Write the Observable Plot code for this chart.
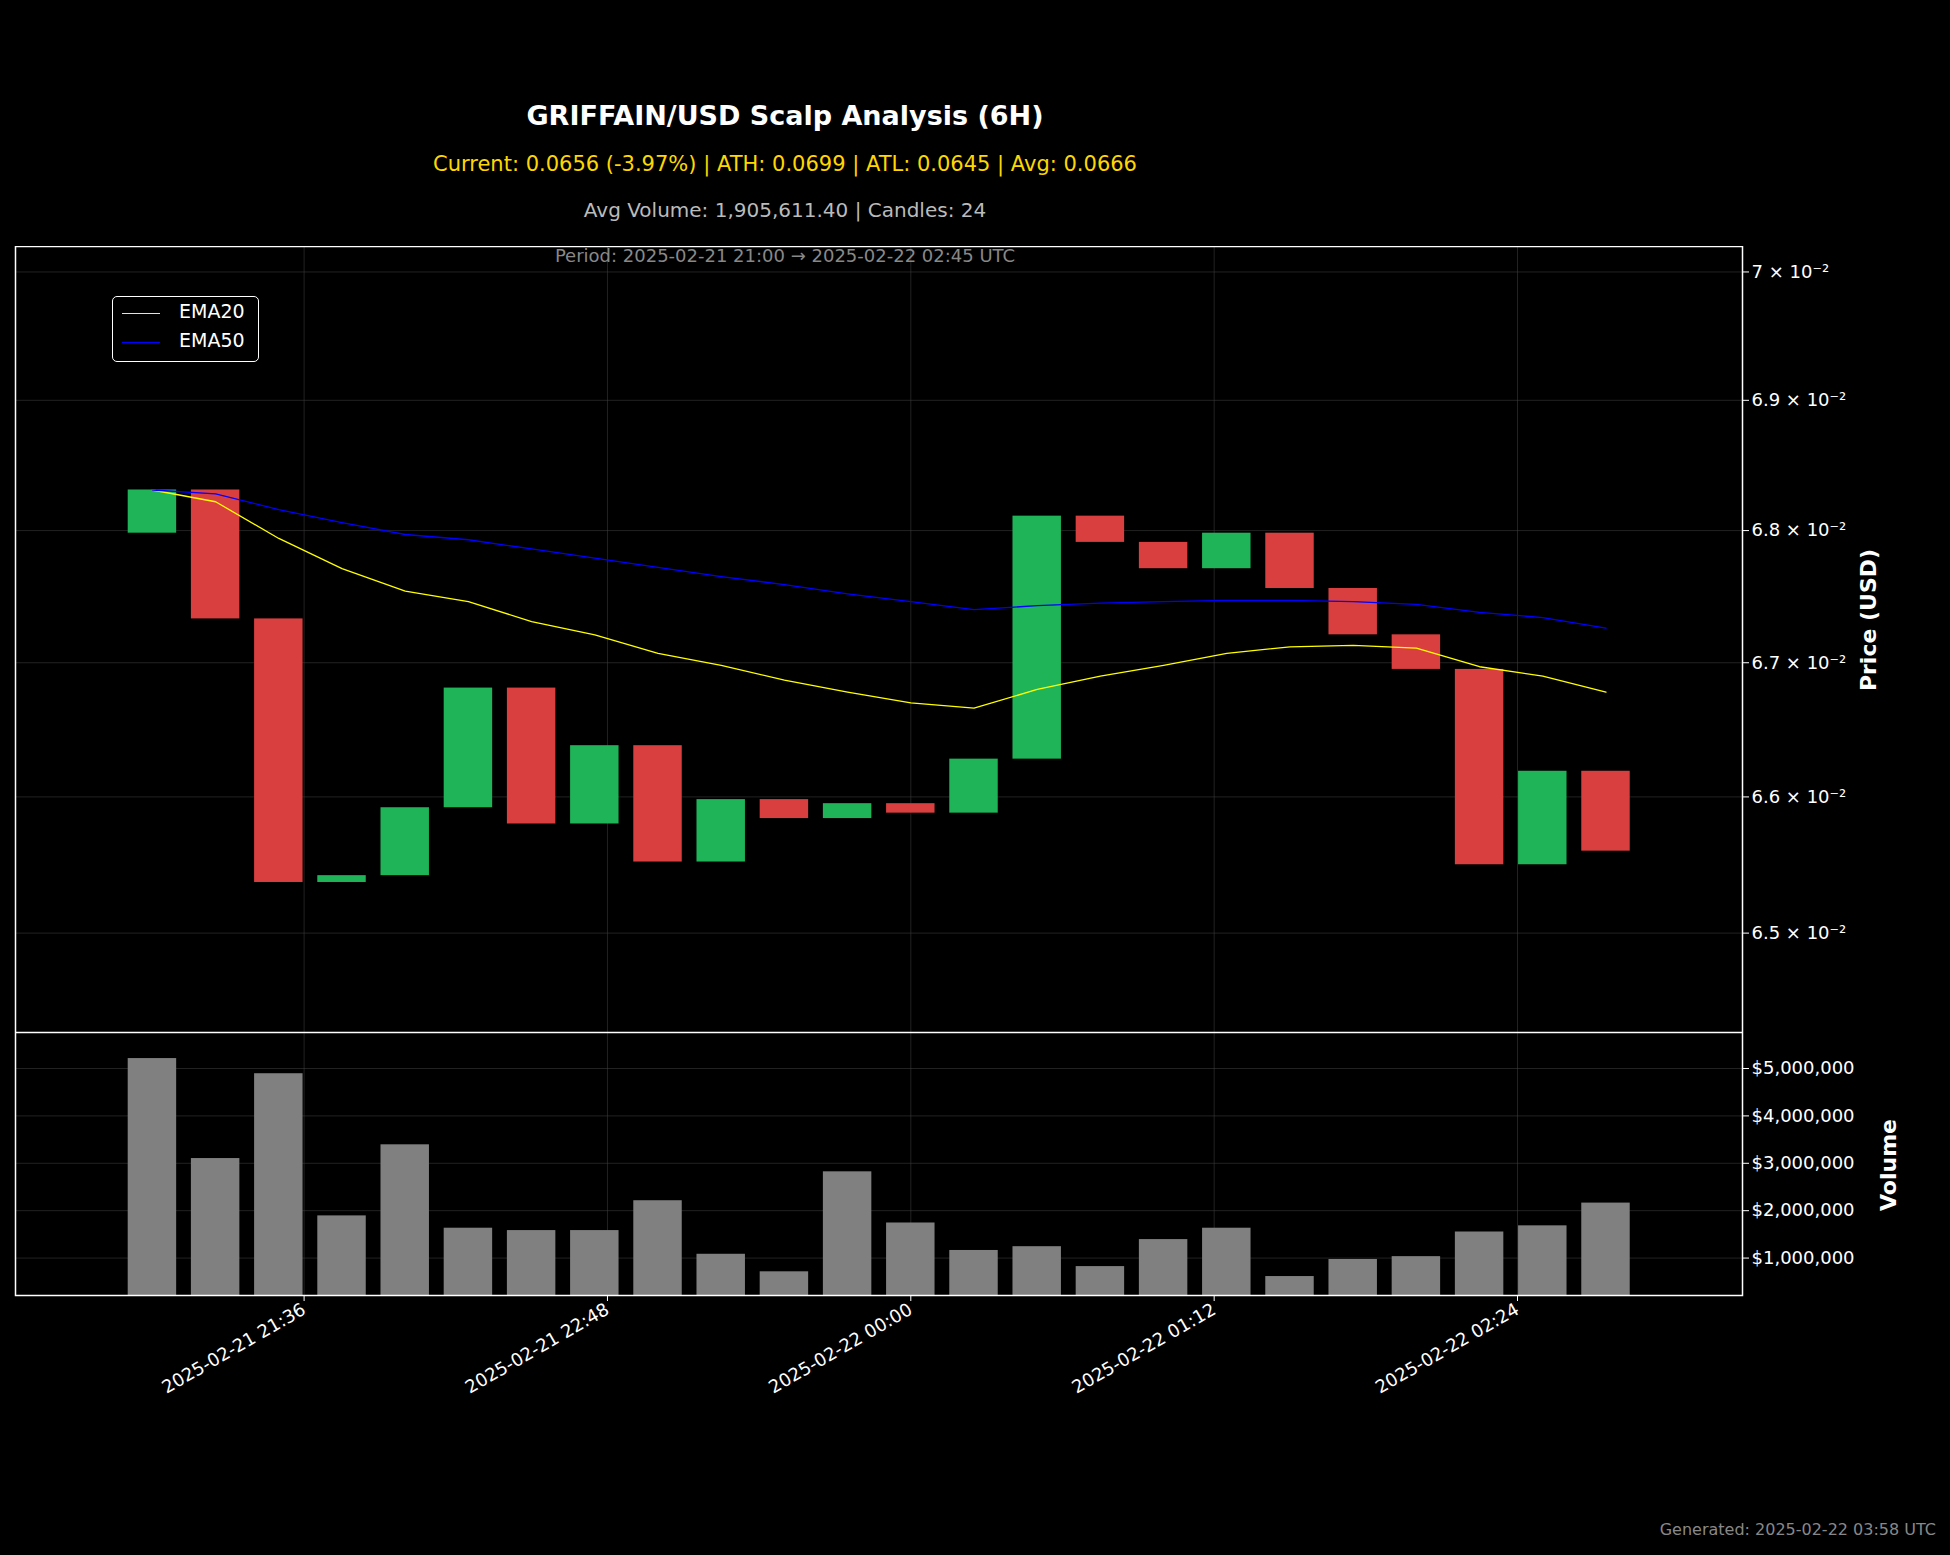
<!DOCTYPE html>
<html>
<head>
<meta charset="utf-8">
<script src="https://cdn.jsdelivr.net/npm/d3@7"></script>
<script src="https://cdn.jsdelivr.net/npm/@observablehq/plot@0.6"></script>
<style>
  body { margin: 0; background: #000; font-family: "DejaVu Sans", sans-serif; }
  #page { position: relative; width: 1950px; height: 1555px; background: #000; overflow: hidden; }
  .txt { position: absolute; left: 0; width: 1570px; text-align: center; white-space: nowrap; }
  .abs { position: absolute; }
</style>
</head>
<body>
<div id="page">
  <div class="txt" style="top:100px;font-size:27px;font-weight:bold;color:#fff;">GRIFFAIN/USD Scalp Analysis (6H)</div>
  <div class="txt" style="top:152px;font-size:21px;color:#ffd700;">Current: 0.0656 (-3.97%) | ATH: 0.0699 | ATL: 0.0645 | Avg: 0.0666</div>
  <div class="txt" style="top:198px;font-size:20px;color:#bbbbbb;">Avg Volume: 1,905,611.40 | Candles: 24</div>
  <div id="price" class="abs" style="left:0;top:246px;"></div>
  <div id="volume" class="abs" style="left:0;top:1032px;"></div>
  <div class="txt" style="top:245px;font-size:18px;color:#888;">Period: 2025-02-21 21:00 → 2025-02-22 02:45 UTC</div>
  <div class="abs" style="left:112px;top:296px;width:145px;height:64px;border:1.5px solid #fff;border-radius:5px;background:#000;font-size:19px;color:#fff;">
    <div style="position:absolute;left:9px;top:16px;width:38px;border-top:1.5px solid #ffff00;"></div>
    <div style="position:absolute;left:66px;top:3px;">EMA20</div>
    <div style="position:absolute;left:9px;top:45px;width:38px;border-top:1.5px solid #0000ff;"></div>
    <div style="position:absolute;left:66px;top:32px;">EMA50</div>
  </div>
  <div class="abs" style="left:1868px;top:620px;width:0;height:0;">
    <div style="transform:translate(-50%,-50%) rotate(-90deg);font-size:22px;font-weight:bold;color:#fff;white-space:nowrap;position:absolute;">Price (USD)</div>
  </div>
  <div class="abs" style="left:1888px;top:1165px;width:0;height:0;">
    <div style="transform:translate(-50%,-50%) rotate(-90deg);font-size:22px;font-weight:bold;color:#fff;white-space:nowrap;position:absolute;">Volume</div>
  </div>
  <div class="abs" style="right:14px;top:1520px;font-size:16px;color:#888;">Generated: 2025-02-22 03:58 UTC</div>
</div>
<script>
const opens  = [0.06798,0.06831,0.06733,0.06537,0.06542,0.06592,0.06681,0.06580,0.06638,0.06552,0.06598,0.06584,0.06595,0.06588,0.06628,0.06811,0.06791,0.06771,0.06798,0.06756,0.06721,0.06695,0.06550,0.06619];
const closes = [0.06831,0.06733,0.06537,0.06542,0.06592,0.06681,0.06580,0.06638,0.06552,0.06598,0.06584,0.06595,0.06588,0.06628,0.06811,0.06791,0.06771,0.06798,0.06756,0.06721,0.06695,0.06550,0.06619,0.06560];
const ema20 = [0.06831,0.06822,0.06794,0.06771,0.06754,0.06746,0.06731,0.06721,0.06707,0.06698,0.06687,0.06678,0.06670,0.06666,0.06680,0.06690,0.06698,0.06707,0.06712,0.06713,0.06711,0.06697,0.06690,0.06678];
const ema50 = [0.06831,0.06828,0.06816,0.06806,0.06797,0.06793,0.06786,0.06779,0.06772,0.06765,0.06759,0.06752,0.06746,0.06740,0.06743,0.06745,0.06746,0.06747,0.06747,0.06746,0.06744,0.06738,0.06734,0.06726];
const volumes = [5210000,3100000,4890000,1890000,3390000,1630000,1580000,1580000,2210000,1080000,710000,2820000,1740000,1160000,1240000,820000,1390000,1630000,610000,970000,1030000,1550000,1680000,2160000];
const priceTicks = [0.065,0.066,0.067,0.068,0.069,0.070];
const volTicks = [1e6,2e6,3e6,4e6,5e6];
const timeTicks = ["2025-02-21T21:36Z","2025-02-21T22:48Z","2025-02-22T00:00Z","2025-02-22T01:12Z","2025-02-22T02:24Z"].map(s => new Date(s));

const start = Date.UTC(2025,1,21,21,0);
const min = 60000;
const data = opens.map((o,i) => ({
  t: new Date(start + i*15*min),
  t1: new Date(start + i*15*min - 5.75*min),
  t2: new Date(start + i*15*min + 5.75*min),
  open: o, close: closes[i], e20: ema20[i], e50: ema50[i], vol: volumes[i],
  up: closes[i] >= o
}));
const xDomain = [new Date(start - 32.5*min), new Date(start + 377.4*min)];
const sup = {"-":"⁻","0":"⁰","1":"¹","2":"²"};
const fmtP = d => { const m = +(d*100).toFixed(1); return (m === 7 ? "7" : m.toFixed(1)) + " × 10⁻²"; };

const common = {
  width: 1950, marginLeft: 15, marginRight: 208,
  style: {background: "#000", color: "#fff", fontSize: "18px", fontFamily: "DejaVu Sans"}
};

const price = Plot.plot({
  ...common, height: 786, marginTop: 0, marginBottom: 0,
  x: {type: "utc", domain: xDomain, axis: null},
  y: {type: "log", domain: [0.06428, 0.0702], ticks: priceTicks, tickFormat: fmtP, axis: "right", label: null, tickSize: 6},
  marks: [
    Plot.gridX(timeTicks, {stroke: "#444", strokeOpacity: 0.5}),
    Plot.gridY(priceTicks, {stroke: "#444", strokeOpacity: 0.5}),
    Plot.rect(data, {x1: "t1", x2: "t2", y1: "open", y2: "close", fill: d => d.up ? "#1fb457" : "#d93f3f"}),
    Plot.line(data, {x: "t", y: "e20", stroke: "#ffff00", strokeWidth: 1.3}),
    Plot.line(data, {x: "t", y: "e50", stroke: "#0000ff", strokeWidth: 1.3}),
    Plot.frame({stroke: "#fff", strokeWidth: 1.5})
  ]
});
document.getElementById("price").append(price);

const volume = Plot.plot({
  ...common, height: 263 + 160, marginTop: 0, marginBottom: 160,
  x: {type: "utc", domain: xDomain, ticks: timeTicks, tickFormat: d3.utcFormat("%Y-%m-%d %H:%M"), tickRotate: -30, label: null, tickSize: 6},
  y: {domain: [210000, 5760000], ticks: volTicks, tickFormat: d3.format("$,"), axis: "right", label: null, tickSize: 6},
  marks: [
    Plot.gridX(timeTicks, {stroke: "#444", strokeOpacity: 0.5}),
    Plot.gridY(volTicks, {stroke: "#444", strokeOpacity: 0.5}),
    Plot.rectY(data, {x1: "t1", x2: "t2", y1: 0, y2: "vol", fill: "#808080", clip: true}),
    Plot.frame({stroke: "#fff", strokeWidth: 1.5})
  ]
});
document.getElementById("volume").append(volume);
</script>
</body>
</html>
